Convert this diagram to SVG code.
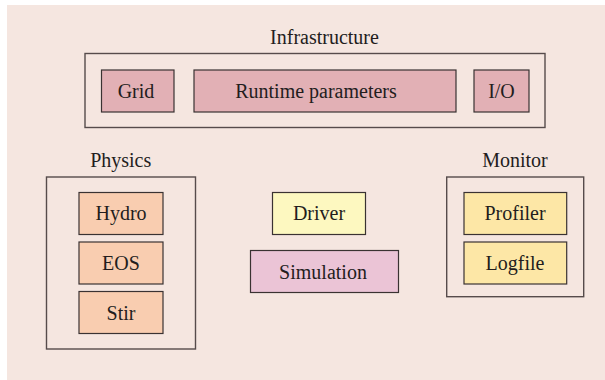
<svg xmlns="http://www.w3.org/2000/svg" width="605" height="380" viewBox="0 0 605 380">
<style>
.grp{fill:none;stroke:#564b4b;stroke-width:1.4}
.box{stroke:#3a3232;stroke-width:1.2}
.lbl{font-family:'Liberation Serif','Times New Roman',Times,'DejaVu Serif',serif;font-size:20px;fill:#231d1d;text-anchor:middle}
.infra{fill:#e2b0b5}
.phys{fill:#f9cdb0}
.mon{fill:#fde7a6}
</style>
<rect x="0" y="0" width="605" height="380" fill="#ffffff"/>
<rect x="7" y="5" width="598" height="375" fill="#f5e6e0"/>
<g id="infrastructure">
<text class="lbl" x="324.5" y="43.5">Infrastructure</text>
<rect class="grp" x="85" y="53.5" width="460" height="74"/>
</g>
<g id="grid">
<rect class="box infra" x="101.5" y="70" width="72.5" height="42"/>
<text class="lbl" x="136" y="97.5">Grid</text>
</g>
<g id="runtime-parameters">
<rect class="box infra" x="194" y="70" width="262" height="42"/>
<text class="lbl" x="316" y="97.5">Runtime parameters</text>
</g>
<g id="io">
<rect class="box infra" x="474" y="70" width="55" height="42"/>
<text class="lbl" x="501.5" y="97.5">I/O</text>
</g>
<g id="physics">
<text class="lbl" x="120.7" y="166.7">Physics</text>
<rect class="grp" x="46.5" y="177" width="149" height="172"/>
</g>
<g id="hydro">
<rect class="box phys" x="79" y="192.5" width="84" height="42"/>
<text class="lbl" x="121" y="220">Hydro</text>
</g>
<g id="eos">
<rect class="box phys" x="79" y="242" width="84" height="42"/>
<text class="lbl" x="121" y="270">EOS</text>
</g>
<g id="stir">
<rect class="box phys" x="79" y="291.5" width="84" height="42"/>
<text class="lbl" x="121" y="319.5">Stir</text>
</g>
<g id="driver">
<rect class="box" fill="#fdf8c0" x="272.5" y="192.5" width="93" height="42"/>
<text class="lbl" x="319" y="220">Driver</text>
</g>
<g id="simulation">
<rect class="box" fill="#ebc4d6" x="250.5" y="250.5" width="148" height="42"/>
<text class="lbl" x="323" y="278.5">Simulation</text>
</g>
<g id="monitor">
<text class="lbl" x="515" y="166.7">Monitor</text>
<rect class="grp" x="446.7" y="177" width="137" height="119.7"/>
</g>
<g id="profiler">
<rect class="box mon" x="464" y="192.5" width="102.7" height="42"/>
<text class="lbl" x="515" y="220">Profiler</text>
</g>
<g id="logfile">
<rect class="box mon" x="464" y="242" width="102.7" height="42"/>
<text class="lbl" x="515" y="270">Logfile</text>
</g>
<g id="connectors"></g>
</svg>
